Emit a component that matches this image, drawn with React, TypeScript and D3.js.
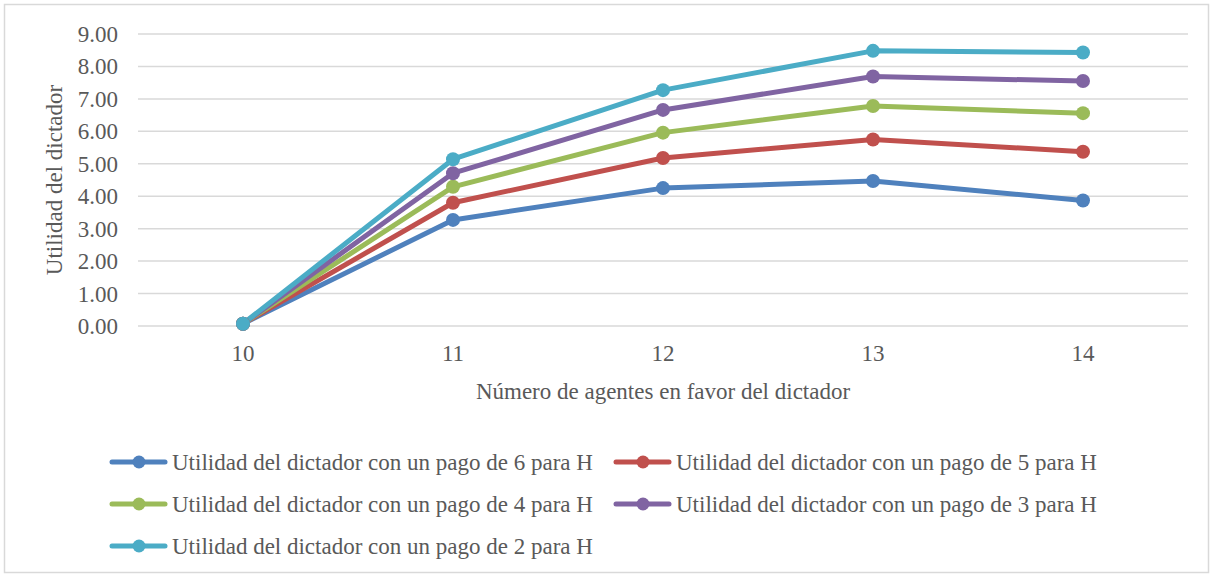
import React, { useEffect, useRef } from "react";
import * as d3 from "d3";

const categories = ["10", "11", "12", "13", "14"];
const seriesNames = [
  "Utilidad del dictador con un pago de 6 para H",
  "Utilidad del dictador con un pago de 5 para H",
  "Utilidad del dictador con un pago de 4 para H",
  "Utilidad del dictador con un pago de 3 para H",
  "Utilidad del dictador con un pago de 2 para H",
];
const pago6 = [0.07, 3.27, 4.25, 4.47, 3.87];
const pago5 = [0.07, 3.8, 5.18, 5.75, 5.37];
const pago4 = [0.07, 4.29, 5.96, 6.78, 6.56];
const pago3 = [0.07, 4.71, 6.66, 7.69, 7.55];
const pago2 = [0.07, 5.14, 7.27, 8.48, 8.43];
const seriesValues = [pago6, pago5, pago4, pago3, pago2];
const colors = ["#4F81BD", "#C0504D", "#9BBB59", "#8064A2", "#4BACC6"];
const yTicks = [0, 1, 2, 3, 4, 5, 6, 7, 8, 9];

const W = 1213;
const H = 576;
const FONT = "'Liberation Serif'";
const TXT = "#595959";

export default function App() {
  const ref = useRef<SVGSVGElement>(null);

  useEffect(() => {
    const svg = d3.select(ref.current);
    svg.selectAll("*").remove();
    const x = d3.scaleBand<string>().domain(categories).range([138, 1188]);
    const y = d3.scaleLinear().domain([0, 9]).range([326, 34]);
    const cx = (i: number) => (x(categories[i]) as number) + x.bandwidth() / 2;

    svg.append("rect").attr("width", W).attr("height", H).attr("fill", "#fff");
    svg
      .append("rect")
      .attr("x", 4.5)
      .attr("y", 4.5)
      .attr("width", W - 9)
      .attr("height", H - 8)
      .attr("fill", "none")
      .attr("stroke", "#d9d9d9")
      .attr("stroke-width", 1.5);

    const addText = (s: string, xx: number, yy: number, anchor: string, size: number) =>
      svg
        .append("text")
        .attr("x", xx)
        .attr("y", yy)
        .attr("text-anchor", anchor)
        .attr("fill", TXT)
        .style("font-family", FONT)
        .style("font-size", size + "px")
        .text(s);

    yTicks.forEach((t) => {
      svg
        .append("line")
        .attr("x1", 138)
        .attr("x2", 1188)
        .attr("y1", y(t))
        .attr("y2", y(t))
        .attr("stroke", "#d9d9d9")
        .attr("stroke-width", 1.5);
      addText(t.toFixed(2), 118, y(t) + 8, "end", 23);
    });
    categories.forEach((c, i) => addText(c, cx(i), 361, "middle", 23));
    addText("Número de agentes en favor del dictador", 663, 399, "middle", 23);
    addText("Utilidad del dictador", 0, 0, "middle", 23).attr("x", null).attr("y", null)
      .attr("transform", "translate(62,180) rotate(-90)");

    const line = d3
      .line<number>()
      .x((_, i) => cx(i))
      .y((v) => y(v));
    seriesValues.forEach((vals, si) => {
      svg
        .append("path")
        .attr("d", line(vals) as string)
        .attr("fill", "none")
        .attr("stroke", colors[si])
        .attr("stroke-width", 5)
        .attr("stroke-linejoin", "round");
    });
    seriesValues.forEach((vals, si) => {
      vals.forEach((v, i) => {
        svg.append("circle").attr("cx", cx(i)).attr("cy", y(v)).attr("r", 7).attr("fill", colors[si]);
      });
    });

    const legendX = [112, 616];
    const legendY = [462, 504, 546];
    seriesNames.forEach((name, i) => {
      const lx = legendX[i % 2];
      const ly = legendY[Math.floor(i / 2)];
      svg
        .append("line")
        .attr("x1", lx)
        .attr("x2", lx + 53)
        .attr("y1", ly)
        .attr("y2", ly)
        .attr("stroke", colors[i])
        .attr("stroke-width", 5)
        .attr("stroke-linecap", "round");
      svg.append("circle").attr("cx", lx + 27).attr("cy", ly).attr("r", 6.5).attr("fill", colors[i]);
      addText(name, lx + 60, ly + 8, "start", 23);
    });
  }, []);

  return (
    <div style={{ position: "absolute", left: 0, top: 0, width: W, height: H, fontFamily: FONT }}>
      <svg ref={ref} width={W} height={H} style={{ display: "block" }} />
    </div>
  );
}
